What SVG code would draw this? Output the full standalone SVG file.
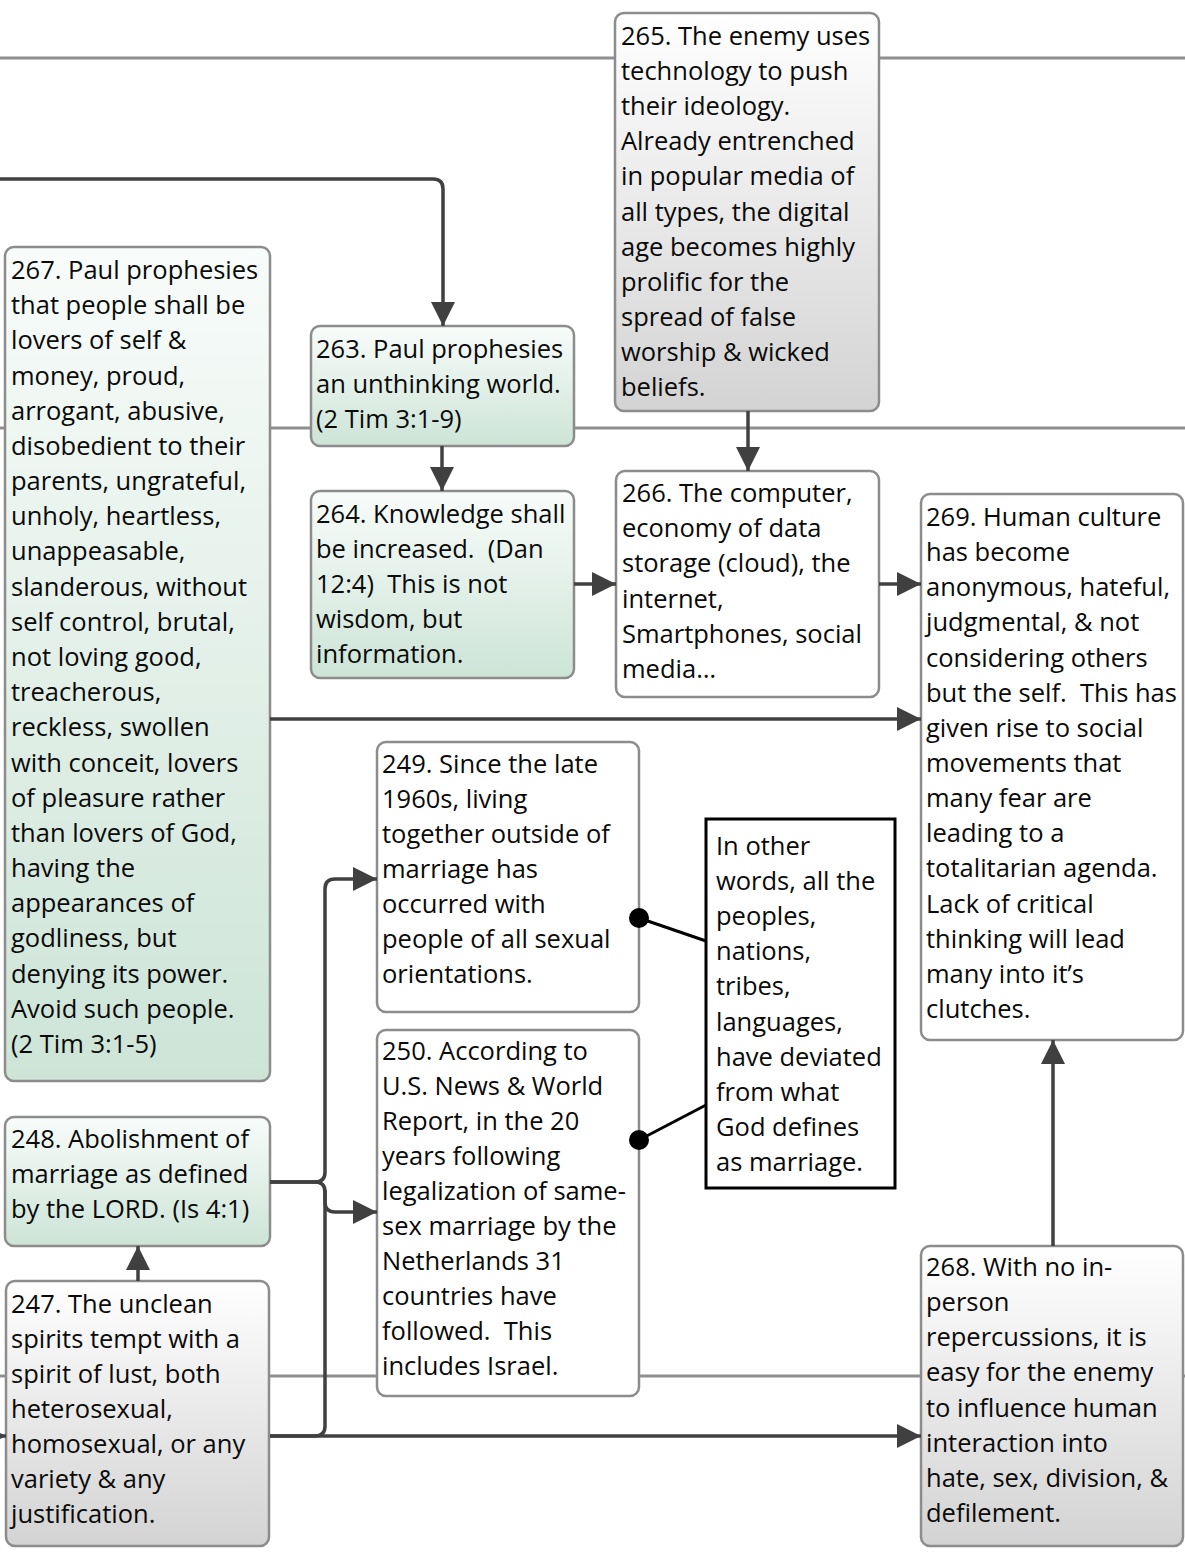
<svg xmlns="http://www.w3.org/2000/svg" width="1185" height="1553" viewBox="0 0 1185 1553">
<style>
.lane{stroke:#8f8f8f;stroke-width:3;fill:none}
.node{stroke:#8c8c8c;stroke-width:2.5}
.white{fill:#ffffff}
.green{fill:url(#gGreen)}
.gray{fill:url(#gGray)}
.note{fill:#ffffff;stroke:#000000;stroke-width:3}
.conn{stroke:#404040;stroke-width:3.5;fill:none}
.arr{marker-end:url(#arrow)}
.dotline{stroke:#000000;stroke-width:3;fill:none}
text{font-family:"Open Sans","Liberation Sans",sans-serif;font-size:25.5px;fill:#0a0a0a;white-space:pre}
</style>
<defs>
<linearGradient id="gGreen" x1="0" y1="0" x2="0" y2="1">
<stop offset="0" stop-color="#f8fcfa"/>
<stop offset="1" stop-color="#cde4d7"/>
</linearGradient>
<linearGradient id="gGray" x1="0" y1="0" x2="0" y2="1">
<stop offset="0" stop-color="#ffffff"/>
<stop offset="1" stop-color="#d3d3d3"/>
</linearGradient>
<marker id="arrow" markerUnits="userSpaceOnUse" markerWidth="26" markerHeight="26" refX="24" refY="12" orient="auto">
<path d="M0,0 L24,12 L0,24 Z" fill="#404040"/>
</marker>
</defs>

<g id="lanes">
<line class="lane" x1="0" y1="58" x2="1185" y2="58"/>
<line class="lane" x1="0" y1="428" x2="1185" y2="428"/>
<line class="lane" x1="0" y1="1376" x2="1185" y2="1376"/>
</g>

<g id="n265">
<rect class="node gray" x="615" y="13" width="264" height="398" rx="9"/>
<text x="621" y="45"><tspan x="621">265. The enemy uses</tspan><tspan x="621" dy="35.1">technology to push</tspan><tspan x="621" dy="35.1">their ideology.</tspan><tspan x="621" dy="35.1">Already entrenched</tspan><tspan x="621" dy="35.1">in popular media of</tspan><tspan x="621" dy="35.1">all types, the digital</tspan><tspan x="621" dy="35.1">age becomes highly</tspan><tspan x="621" dy="35.1">prolific for the</tspan><tspan x="621" dy="35.1">spread of false</tspan><tspan x="621" dy="35.1">worship &amp; wicked</tspan><tspan x="621" dy="35.1">beliefs.</tspan></text>
</g>

<g id="n267">
<rect class="node green" x="5" y="247" width="265" height="834" rx="9"/>
<text x="11" y="279"><tspan x="11">267. Paul prophesies</tspan><tspan x="11" dy="35.18">that people shall be</tspan><tspan x="11" dy="35.18">lovers of self &amp;</tspan><tspan x="11" dy="35.18">money, proud,</tspan><tspan x="11" dy="35.18">arrogant, abusive,</tspan><tspan x="11" dy="35.18">disobedient to their</tspan><tspan x="11" dy="35.18">parents, ungrateful,</tspan><tspan x="11" dy="35.18">unholy, heartless,</tspan><tspan x="11" dy="35.18">unappeasable,</tspan><tspan x="11" dy="35.18">slanderous, without</tspan><tspan x="11" dy="35.18">self control, brutal,</tspan><tspan x="11" dy="35.18">not loving good,</tspan><tspan x="11" dy="35.18">treacherous,</tspan><tspan x="11" dy="35.18">reckless, swollen</tspan><tspan x="11" dy="35.18">with conceit, lovers</tspan><tspan x="11" dy="35.18">of pleasure rather</tspan><tspan x="11" dy="35.18">than lovers of God,</tspan><tspan x="11" dy="35.18">having the</tspan><tspan x="11" dy="35.18">appearances of</tspan><tspan x="11" dy="35.18">godliness, but</tspan><tspan x="11" dy="35.18">denying its power.</tspan><tspan x="11" dy="35.18">Avoid such people.</tspan><tspan x="11" dy="35.18">(2 Tim 3:1-5)</tspan></text>
</g>

<g id="n263">
<rect class="node green" x="311" y="326" width="263" height="120" rx="9"/>
<text x="316" y="358"><tspan x="316">263. Paul prophesies</tspan><tspan x="316" dy="35">an unthinking world.</tspan><tspan x="316" dy="35">(2 Tim 3:1-9)</tspan></text>
</g>

<g id="n264">
<rect class="node green" x="311" y="491" width="263" height="187" rx="9"/>
<text x="316" y="523"><tspan x="316">264. Knowledge shall</tspan><tspan x="316" dy="35">be increased.  (Dan</tspan><tspan x="316" dy="35">12:4)  This is not</tspan><tspan x="316" dy="35">wisdom, but</tspan><tspan x="316" dy="35">information.</tspan></text>
</g>

<g id="n266">
<rect class="node white" x="616" y="471" width="263" height="226" rx="9"/>
<text x="622" y="502"><tspan x="622">266. The computer,</tspan><tspan x="622" dy="35.2">economy of data</tspan><tspan x="622" dy="35.2">storage (cloud), the</tspan><tspan x="622" dy="35.2">internet,</tspan><tspan x="622" dy="35.2">Smartphones, social</tspan><tspan x="622" dy="35.2">media…</tspan></text>
</g>

<g id="n269">
<rect class="node white" x="921" y="494" width="262" height="546" rx="9"/>
<text x="926" y="526"><tspan x="926">269. Human culture</tspan><tspan x="926" dy="35.14">has become</tspan><tspan x="926" dy="35.14">anonymous, hateful,</tspan><tspan x="926" dy="35.14">judgmental, &amp; not</tspan><tspan x="926" dy="35.14">considering others</tspan><tspan x="926" dy="35.14">but the self.  This has</tspan><tspan x="926" dy="35.14">given rise to social</tspan><tspan x="926" dy="35.14">movements that</tspan><tspan x="926" dy="35.14">many fear are</tspan><tspan x="926" dy="35.14">leading to a</tspan><tspan x="926" dy="35.14">totalitarian agenda.</tspan><tspan x="926" dy="35.14">Lack of critical</tspan><tspan x="926" dy="35.14">thinking will lead</tspan><tspan x="926" dy="35.14">many into it’s</tspan><tspan x="926" dy="35.14">clutches.</tspan></text>
</g>

<g id="n249">
<rect class="node white" x="377" y="742" width="262" height="270" rx="9"/>
<text x="382" y="773"><tspan x="382">249. Since the late</tspan><tspan x="382" dy="35">1960s, living</tspan><tspan x="382" dy="35">together outside of</tspan><tspan x="382" dy="35">marriage has</tspan><tspan x="382" dy="35">occurred with</tspan><tspan x="382" dy="35">people of all sexual</tspan><tspan x="382" dy="35">orientations.</tspan></text>
</g>

<g id="n250">
<rect class="node white" x="377" y="1030" width="262" height="366" rx="9"/>
<text x="382" y="1060"><tspan x="382">250. According to</tspan><tspan x="382" dy="35">U.S. News &amp; World</tspan><tspan x="382" dy="35">Report, in the 20</tspan><tspan x="382" dy="35">years following</tspan><tspan x="382" dy="35">legalization of same-</tspan><tspan x="382" dy="35">sex marriage by the</tspan><tspan x="382" dy="35">Netherlands 31</tspan><tspan x="382" dy="35">countries have</tspan><tspan x="382" dy="35">followed.  This</tspan><tspan x="382" dy="35">includes Israel.</tspan></text>
</g>

<g id="note">
<rect class="note" x="706" y="819" width="189" height="369"/>
<text x="716" y="855"><tspan x="716">In other</tspan><tspan x="716" dy="35.1">words, all the</tspan><tspan x="716" dy="35.1">peoples,</tspan><tspan x="716" dy="35.1">nations,</tspan><tspan x="716" dy="35.1">tribes,</tspan><tspan x="716" dy="35.1">languages,</tspan><tspan x="716" dy="35.1">have deviated</tspan><tspan x="716" dy="35.1">from what</tspan><tspan x="716" dy="35.1">God defines</tspan><tspan x="716" dy="35.1">as marriage.</tspan></text>
</g>

<g id="n248">
<rect class="node green" x="5" y="1117" width="265" height="129" rx="9"/>
<text x="11" y="1148"><tspan x="11">248. Abolishment of</tspan><tspan x="11" dy="35">marriage as defined</tspan><tspan x="11" dy="35">by the LORD. (Is 4:1)</tspan></text>
</g>

<g id="n247">
<rect class="node gray" x="6" y="1281" width="263" height="265" rx="9"/>
<text x="11" y="1313"><tspan x="11">247. The unclean</tspan><tspan x="11" dy="35">spirits tempt with a</tspan><tspan x="11" dy="35">spirit of lust, both</tspan><tspan x="11" dy="35">heterosexual,</tspan><tspan x="11" dy="35">homosexual, or any</tspan><tspan x="11" dy="35">variety &amp; any</tspan><tspan x="11" dy="35">justification.</tspan></text>
</g>

<g id="n268">
<rect class="node gray" x="921" y="1246" width="262" height="300" rx="9"/>
<text x="926" y="1276"><tspan x="926">268. With no in-</tspan><tspan x="926" dy="35.14">person</tspan><tspan x="926" dy="35.14">repercussions, it is</tspan><tspan x="926" dy="35.14">easy for the enemy</tspan><tspan x="926" dy="35.14">to influence human</tspan><tspan x="926" dy="35.14">interaction into</tspan><tspan x="926" dy="35.14">hate, sex, division, &amp;</tspan><tspan x="926" dy="35.14">defilement.</tspan></text>
</g>

<g id="connectors">
<path class="conn arr" d="M0,179 H433 Q443,179 443,189 V326"/>
<path class="conn arr" d="M748,411 V471"/>
<path class="conn arr" d="M442,446 V491"/>
<path class="conn arr" d="M574,584 H616"/>
<path class="conn arr" d="M879,584 H921"/>
<path class="conn arr" d="M270,719 H921"/>
<path class="conn arr" d="M270,1182 H315 Q325,1182 325,1172 V889 Q325,879 335,879 H377"/>
<path class="conn arr" d="M270,1182 H315 Q325,1182 325,1192 V1202 Q325,1212 335,1212 H377"/>
<path class="conn" d="M270,1436 H315 Q325,1436 325,1426 V1190"/>
<path class="conn arr" d="M270,1436 H921"/>
<path class="conn arr" d="M138,1281 V1246"/>
<path class="conn arr" d="M1053,1246 V1040"/>
<path class="conn arr" d="M-30,1436 H6"/>
<path class="dotline" d="M639,918 L706,941"/>
<path class="dotline" d="M639,1140 L706,1105"/>
<circle cx="639" cy="918" r="10" fill="#000000"/>
<circle cx="639" cy="1140" r="10" fill="#000000"/>
</g>
</svg>
